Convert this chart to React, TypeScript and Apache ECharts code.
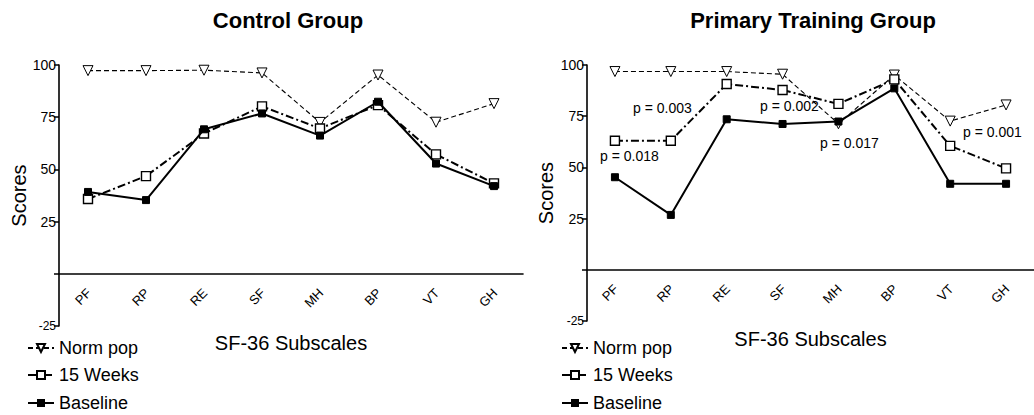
import React, { useEffect, useRef } from "react";
import * as echarts from "echarts";

const categories = ["PF", "RP", "RE", "SF", "MH", "BP", "VT", "GH"];

const controlNorm = [97.3, 97.3, 97.5, 96.2, 72.5, 95.2, 72.6, 81.5];
const control15Weeks = [35.8, 46.8, 67.2, 80.2, 69.6, 80.8, 57.2, 43.3];
const controlBaseline = [39.2, 35.3, 69.2, 76.8, 66.2, 82.4, 52.8, 42.0];

const trainingNorm = [96.8, 96.8, 96.8, 95.5, 71.3, 95.1, 72.6, 80.5];
const training15Weeks = [63.0, 63.0, 90.7, 87.8, 81.0, 93.0, 60.5, 49.5];
const trainingBaseline = [45.2, 26.8, 73.5, 71.2, 72.4, 88.6, 42.0, 42.0];

const titles = ["Control Group", "Primary Training Group"];
const legendNames = ["Norm pop", "15 Weeks", "Baseline"];
const yTicks = { min: -25, max: 100, interval: 25 };
const pValues = ["p = 0.018", "p = 0.003", "p = 0.002", "p = 0.017", "p = 0.001"];

const FONT = "Liberation Sans";

export default function App() {
  const ref = useRef<HTMLDivElement>(null);

  useEffect(() => {
    if (!ref.current) return;
    const chart = echarts.init(ref.current, undefined, { renderer: "svg" });

    const grids = [
      { left: 59, top: 65, width: 464, height: 261 },
      { left: 587, top: 65, width: 454, height: 256 },
    ];

    const zeroOffsets = grids.map(
      (g) => (g.height * (0 - yTicks.min)) / (yTicks.max - yTicks.min)
    );

    const xAxes = [0, 1].map((i) => ({
      type: "category",
      gridIndex: i,
      position: "bottom",
      offset: -zeroOffsets[i],
      data: categories,
      boundaryGap: true,
      axisLine: { onZero: false, lineStyle: { color: "#000", width: 1.6 } },
      axisTick: {
        alignWithLabel: true,
        interval: 0,
        length: 4,
        lineStyle: { color: "#000", width: 1.5 },
      },
      axisLabel: { show: false, interval: 0 },
      name: "SF-36 Subscales",
      nameLocation: "middle",
      nameGap: 59,
      nameTextStyle: { color: "#000", fontSize: 20, fontFamily: FONT },
      splitLine: { show: false },
    }));

    const yAxes = [0, 1].map((i) => ({
      type: "value",
      gridIndex: i,
      min: yTicks.min,
      max: yTicks.max,
      interval: yTicks.interval,
      axisLine: { show: true, onZero: false, lineStyle: { color: "#000", width: 1.6 } },
      axisTick: { show: true, length: 5, lineStyle: { color: "#000", width: 1.5 } },
      axisLabel: {
        color: "#000",
        fontSize: 14,
        fontFamily: FONT,
        margin: 3,
        formatter: (v: number) => (v === 0 ? "" : v < 0 ? "{s|" + v + "}" : String(v)),
        rich: { s: { fontSize: 12, fontFamily: FONT, color: "#000" } },
      },
      splitLine: { show: false },
      name: "Scores",
      nameLocation: "middle",
      nameGap: i === 0 ? 30 : 31,
      nameTextStyle: { color: "#000", fontSize: 20, fontFamily: FONT },
    }));

    const makeSeries = (idx: number, norm: number[], weeks: number[], base: number[]) => [
      {
        name: legendNames[0],
        type: "line",
        xAxisIndex: idx,
        yAxisIndex: idx,
        data: norm,
        symbol: "triangle",
        symbolRotate: 180,
        symbolSize: 10,
        itemStyle: { color: "#fff", borderColor: "#000", borderWidth: 1 },
        lineStyle: { color: "#000", width: 1.1, type: [5, 3] },
        z: 2,
      },
      {
        name: legendNames[1],
        type: "line",
        xAxisIndex: idx,
        yAxisIndex: idx,
        data: weeks,
        symbol: "rect",
        symbolSize: 9,
        itemStyle: { color: "#fff", borderColor: "#000", borderWidth: 1.4 },
        lineStyle: { color: "#000", width: 2, type: [8, 3, 2, 3] },
        z: 3,
      },
      {
        name: legendNames[2],
        type: "line",
        xAxisIndex: idx,
        yAxisIndex: idx,
        data: base,
        symbol: "rect",
        symbolSize: 7,
        itemStyle: { color: "#000", borderColor: "#000" },
        lineStyle: { color: "#000", width: 2 },
        z: 4,
      },
      {
        // rotated category labels under the zero line
        type: "custom",
        xAxisIndex: idx,
        yAxisIndex: idx,
        silent: true,
        data: categories.map((c, k) => [k, 0]),
        renderItem: (params: any, api: any) => {
          const p = api.coord([api.value(0), 0]);
          return {
            type: "group",
            x: p[0] + 1,
            y: p[1] + 17,
            rotation: Math.PI / 4,
            children: [
              {
                type: "text",
                x: 0,
                y: 0,
                style: {
                  text: categories[params.dataIndex],
                  fill: "#000",
                  font: `13px "${FONT}"`,
                  textAlign: "right",
                  textVerticalAlign: "middle",
                },
              },
            ],
          };
        },
        z: 5,
      },
    ];

    const legendTops = [339, 366, 394];
    const legendLefts = [27, 561];
    const legends: any[] = [];
    legendLefts.forEach((l) => {
      legendNames.forEach((n, k) => {
        legends.push({
          left: l,
          top: legendTops[k],
          itemWidth: 26,
          itemHeight: 10,
          data: [n],
          textStyle: { color: "#000", fontSize: 18, fontFamily: FONT },
          selectedMode: false,
          padding: 0,
        });
      });
    });

    const pPos = [
      [600, 156],
      [633, 108],
      [760, 106],
      [820, 143],
      [963, 132],
    ];

    chart.setOption({
      animation: false,
      backgroundColor: "#fff",
      textStyle: { fontFamily: FONT },
      title: [
        {
          text: titles[0],
          left: 283,
          top: 4,
          textAlign: "center",
          textStyle: { color: "#000", fontSize: 22, fontWeight: "bold", fontFamily: FONT },
        },
        {
          text: titles[1],
          left: 808,
          top: 4,
          textAlign: "center",
          textStyle: { color: "#000", fontSize: 22, fontWeight: "bold", fontFamily: FONT },
        },
      ],
      legend: legends,
      grid: grids,
      xAxis: xAxes,
      yAxis: yAxes,
      series: [
        ...makeSeries(0, controlNorm, control15Weeks, controlBaseline),
        ...makeSeries(1, trainingNorm, training15Weeks, trainingBaseline),
      ],
      graphic: pValues.map((t, i) => ({
        type: "text",
        x: pPos[i][0],
        y: pPos[i][1],
        z: 10,
        style: {
          text: t,
          fill: "#000",
          font: `14px "${FONT}"`,
          textAlign: "left",
          textVerticalAlign: "middle",
        },
      })),
    });

    return () => chart.dispose();
  }, []);

  return (
    <div
      ref={ref}
      style={{ position: "fixed", left: 0, top: 0, width: 1034, height: 415, background: "#fff" }}
    />
  );
}
